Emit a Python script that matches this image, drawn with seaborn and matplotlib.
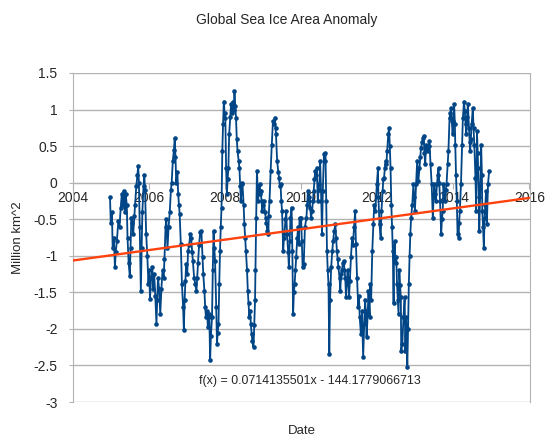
import matplotlib
matplotlib.use('Agg')
import matplotlib.pyplot as plt
import seaborn as sns
import pandas as pd

years = [2004.98, 2005.00, 2005.03, 2005.05, 2005.08, 2005.11, 2005.13, 2005.16, 2005.20, 2005.23,
         2005.26, 2005.29, 2005.32, 2005.34, 2005.37, 2005.39, 2005.42, 2005.44, 2005.47, 2005.50,
         2005.52, 2005.54, 2005.57, 2005.59, 2005.62, 2005.64, 2005.67, 2005.70, 2005.72, 2005.74,
         2005.76, 2005.79, 2005.81, 2005.83, 2005.86, 2005.88, 2005.90, 2005.93, 2005.96, 2005.99,
         2006.01, 2006.03, 2006.06, 2006.09, 2006.12,
         2006.14, 2006.17, 2006.20, 2006.22, 2006.24, 2006.27, 2006.30, 2006.33, 2006.36, 2006.39,
         2006.41, 2006.44, 2006.46, 2006.49, 2006.52, 2006.55, 2006.58, 2006.60, 2006.63, 2006.66,
         2006.68, 2006.70, 2006.72, 2006.75, 2006.77, 2006.79, 2006.81, 2006.84, 2006.87, 2006.90,
         2006.92, 2006.94, 2006.96, 2006.98, 2007.01, 2007.03, 2007.06, 2007.09, 2007.11, 2007.14,
         2007.16, 2007.19, 2007.22, 2007.25, 2007.27, 2007.29, 2007.32, 2007.35,
         2007.38, 2007.41, 2007.43, 2007.46, 2007.48, 2007.50, 2007.53, 2007.55, 2007.57, 2007.59,
         2007.61, 2007.63, 2007.66, 2007.68, 2007.70, 2007.72, 2007.74, 2007.77, 2007.79, 2007.81,
         2007.83, 2007.85, 2007.87, 2007.89, 2007.91, 2007.93, 2007.95, 2007.97, 2007.99, 2008.01,
         2008.03, 2008.05, 2008.07, 2008.09, 2008.11, 2008.14, 2008.16, 2008.18, 2008.20, 2008.23,
         2008.25, 2008.27, 2008.29, 2008.31, 2008.33, 2008.36, 2008.38, 2008.40, 2008.42, 2008.44,
         2008.46, 2008.49, 2008.51, 2008.53, 2008.55, 2008.58, 2008.60, 2008.62, 2008.64, 2008.66,
         2008.68, 2008.70, 2008.72, 2008.75, 2008.77, 2008.79, 2008.80, 2008.82, 2008.84, 2008.86,
         2008.87, 2008.89, 2008.91, 2008.93, 2008.94, 2008.96, 2008.98, 2009.00, 2009.02, 2009.05,
         2009.07, 2009.09, 2009.11, 2009.14, 2009.15, 2009.17, 2009.20, 2009.23, 2009.26, 2009.28,
         2009.31, 2009.33, 2009.34, 2009.37, 2009.40, 2009.42, 2009.44, 2009.46, 2009.48, 2009.50,
         2009.53, 2009.55, 2009.56, 2009.59, 2009.61, 2009.63, 2009.66, 2009.68, 2009.70, 2009.72,
         2009.75, 2009.77, 2009.79, 2009.81, 2009.83, 2009.85, 2009.87, 2009.90, 2009.92,
         2009.94, 2009.96, 2009.98, 2010.00, 2010.02, 2010.04, 2010.07, 2010.10, 2010.14, 2010.16,
         2010.18, 2010.20, 2010.22, 2010.24, 2010.26, 2010.29, 2010.31, 2010.33, 2010.35, 2010.37,
         2010.39, 2010.41, 2010.44, 2010.46, 2010.48, 2010.50, 2010.53, 2010.55, 2010.57, 2010.60,
         2010.62, 2010.64, 2010.66, 2010.68, 2010.70, 2010.72, 2010.74, 2010.76, 2010.79, 2010.82,
         2010.84, 2010.87, 2010.90, 2010.92, 2010.94, 2010.96, 2010.98, 2011.01, 2011.03, 2011.05,
         2011.07, 2011.10, 2011.12, 2011.14, 2011.16,
         2011.18, 2011.20, 2011.22, 2011.24, 2011.26, 2011.28, 2011.31, 2011.34, 2011.36, 2011.39,
         2011.42, 2011.44, 2011.47, 2011.50, 2011.52, 2011.54, 2011.57, 2011.60, 2011.63, 2011.66,
         2011.68, 2011.70, 2011.72, 2011.75, 2011.77, 2011.80, 2011.81, 2011.84, 2011.87, 2011.90,
         2011.92, 2011.95, 2011.99, 2012.02, 2012.03, 2012.06, 2012.09, 2012.11, 2012.14, 2012.16,
         2012.18, 2012.20, 2012.22, 2012.24, 2012.26, 2012.29, 2012.31, 2012.33, 2012.35, 2012.37,
         2012.39, 2012.41, 2012.43, 2012.44, 2012.46, 2012.48,
         2012.50, 2012.52, 2012.54, 2012.56, 2012.58, 2012.60, 2012.62, 2012.63, 2012.66, 2012.69,
         2012.72, 2012.74, 2012.76, 2012.79, 2012.81, 2012.83, 2012.85, 2012.87, 2012.89, 2012.92,
         2012.95, 2012.97, 2012.99, 2013.02, 2013.05, 2013.08, 2013.11, 2013.13, 2013.15, 2013.18,
         2013.20, 2013.22, 2013.24, 2013.26, 2013.28, 2013.31, 2013.33, 2013.35, 2013.37, 2013.40,
         2013.43, 2013.46, 2013.48, 2013.50, 2013.52, 2013.54, 2013.57, 2013.59, 2013.61, 2013.63,
         2013.65, 2013.68,
         2013.70, 2013.72, 2013.74, 2013.76, 2013.78, 2013.80, 2013.82, 2013.85, 2013.87, 2013.90,
         2013.92, 2013.94, 2013.96, 2013.98, 2014.00, 2014.02, 2014.04, 2014.05, 2014.07, 2014.09,
         2014.11, 2014.14, 2014.15, 2014.17, 2014.20, 2014.23, 2014.25, 2014.28, 2014.30, 2014.32,
         2014.34, 2014.36, 2014.38, 2014.41, 2014.43, 2014.44, 2014.46, 2014.48, 2014.51, 2014.53,
         2014.55, 2014.58, 2014.60, 2014.62, 2014.64, 2014.65, 2014.67, 2014.68, 2014.71, 2014.73,
         2014.75, 2014.76, 2014.78, 2014.80, 2014.82, 2014.84, 2014.86, 2014.88, 2014.91, 2014.94]

anomaly = [-0.20, -0.55, -0.40, -0.90, -0.75, -1.16, -0.95, -0.80, -0.52, -0.60,
           -0.35, -0.15, -0.30, -0.11, -0.40, -0.15, -0.30, -0.75, -1.10, -1.28,
           -0.90, -0.48, -0.55, -0.70, -0.45, -0.30, -0.05, 0.10, 0.23, 0.00,
           -0.60, -1.48, -0.90, -0.40, -0.05, 0.11, -0.10, -0.70, -1.00, -1.39,
           -1.20, -1.59, -1.30, -1.15, -1.45,
           -1.25, -1.55, -1.93, -1.60, -1.30, -1.45, -1.80, -1.45, -1.20, -1.30,
           -1.05, -0.60, -0.50, -0.90, -0.60, -0.40, -0.10, 0.00, 0.30, 0.45,
           0.61, 0.35, 0.00, 0.15, -0.15, -0.30, -0.43, -0.84, -1.39, -1.70,
           -2.02, -1.60, -1.35, -1.11, -1.25, -0.93, -0.85, -0.70, -0.75, -0.95,
           -1.07, -1.30, -1.39, -1.48, -1.30, -1.10, -0.85, -0.68,
           -0.66, -1.02, -1.25, -1.48, -1.70, -1.84, -1.75, -1.98, -1.80, -1.84,
           -2.43, -2.10, -1.84, -1.20, -0.66, -0.90, -1.07, -1.70, -2.20, -2.05,
           -1.93, -1.39, -0.93, -0.60, -0.34, 0.43, 0.80, 1.11, 0.95, 0.89,
           0.20, -0.16, 0.05, 0.20, 0.66, 0.90, 1.07, 0.95, 1.11, 1.00,
           1.25, 1.05, 0.89, 0.60, 0.43, 0.30, 0.20, -0.05, -0.25, 0.00,
           -0.02, -0.30, -0.57, -0.75, -0.93, -1.20, -1.48, -1.65, -1.84, -1.75,
           -1.93, -2.07, -2.16, -2.25, -1.95, -1.61, -1.20, -0.48, 0.16, -0.10,
           -0.25, -0.10, -0.02, -0.15, -0.11, -0.25, -0.39, -0.30, -0.25, -0.40,
           -0.48, -0.55, -0.66, -0.70, -0.45, -0.25, 0.16, 0.52, 0.84, 0.80,
           0.89, 0.75, 0.66, 0.30, 0.15, 0.07, -0.05, -0.02, -0.25, -0.39,
           -0.93, -0.75, -0.70, -0.50, -0.39, -0.70, -0.95, -1.16, -0.80, -0.48,
           -0.34, -0.93, -1.80, -1.50, -1.39, -1.20, -1.02, -0.75, -0.61,
           -0.84, -0.48, -0.60, -0.48, -0.80, -1.16, -1.11, -0.61, -0.48, -0.30,
           -0.11, -0.25, -0.20, -0.35, -0.48, -0.39, -0.25, -0.11, 0.05, 0.16,
           0.10, 0.20, -0.25, -0.10, -0.02, 0.30, -0.25, -0.70, -0.11, 0.39,
           0.30, 0.41, -0.25, -0.93, -1.20, -1.39, -2.34, -1.61, -1.16, -0.93,
           -0.80, -0.66, -0.57, -0.75, -0.93, -1.05, -1.16, -1.30, -1.48, -1.25,
           -1.20, -1.10, -1.07, -1.20, -1.30,
           -1.57, -1.39, -1.20, -1.30, -1.57, -1.35, -1.02, -0.75, -0.85, -0.61,
           -0.39, -0.84, -1.30, -1.70, -1.55, -1.84, -2.07, -1.75, -2.39, -1.93,
           -1.60, -1.75, -2.11, -1.80, -1.48, -1.84, -1.39, -1.61, -0.93, -0.57,
           -0.30, -0.39, -0.02, 0.20, -0.20, -0.57, -0.75, -0.39, -0.11, 0.05,
           0.07, 0.20, 0.30, 0.25, 0.43, 0.66, 0.75, 0.50, 0.20, -0.30,
           -0.60, -0.93, -1.65, -1.00, -0.80, -1.10,
           -1.02, -1.39, -1.60, -1.80, -1.20, -1.40, -1.57, -2.30, -2.20, -1.84,
           -1.57, -2.30, -1.84, -2.52, -2.00, -1.39, -1.00, -0.70, -0.48, -0.30,
           -0.02, -0.20, -0.39, -0.02, 0.30, 0.02, 0.20, 0.35, 0.48, 0.55,
           0.61, 0.64, 0.40, 0.25, 0.52, 0.45, 0.43, 0.50, 0.57, 0.25,
           -0.02, -0.48, -0.20, -0.02, -0.15, -0.25, -0.02, 0.10, 0.20, 0.00,
           -0.25, -0.70,
           -0.50, -0.39, -0.02, -0.15, -0.25, -0.10, -0.02, 0.25, 0.43, 0.89,
           0.95, 1.02, 0.85, 0.66, 0.85, 1.07, 0.80, 0.52, 0.10, -0.25,
           -0.70, -0.75, -0.55, -0.39, -0.02, 0.52, 0.89, 1.11, 0.98, 0.80,
           0.66, 0.90, 1.07, 0.75, 0.55, 0.43, 0.60, 0.80, 1.02, 0.75,
           0.52, 0.07, -0.39, 0.70, 0.40, 0.20, -0.20, -0.66, -0.02, 0.52,
           0.10, -0.39, -0.60, -0.89, -0.48, -0.30, -0.11, -0.57, -0.02, 0.16]

trend_x = [2004, 2016]
slope = 0.0714135501
intercept = -144.1779066713

x_ticks = [2004, 2006, 2008, 2010, 2012, 2014, 2016]
y_ticks = [1.5, 1, 0.5, 0, -0.5, -1, -1.5, -2, -2.5, -3]
y_tick_labels = ["1.5", "1", "0.5", "0", "-0.5", "-1", "-1.5", "-2", "-2.5", "-3"]

sns.set_style('white')
plt.rcParams['font.family'] = ['Liberation Sans', 'DejaVu Sans']

df = pd.DataFrame({'year': years, 'anomaly': anomaly})
trend = pd.DataFrame({'year': trend_x,
                      'value': [slope * v + intercept for v in trend_x]})

fig = plt.figure(figsize=(5.55, 4.43), dpi=100)
W, H = 555, 443
ax = fig.add_axes([72.7 / W, 1 - 402 / H, (529.5 - 72.7) / W, (402 - 73) / H])

grid_c = '#b3b3b3'
for yv in y_ticks:
    ax.axhline(yv, color=grid_c, lw=1.0, zorder=0)

sns.lineplot(data=df, x='year', y='anomaly', ax=ax, color='#004586',
             linewidth=1.3, marker='o', markersize=3.3, markeredgewidth=0,
             zorder=3)
sns.lineplot(data=trend, x='year', y='value', ax=ax, color='#ff420e',
             linewidth=1.7, zorder=4)

ax.set_xlim(2004, 2016)
ax.set_ylim(-3, 1.5)
ax.set_xticks(x_ticks)
ax.set_xticklabels([str(t) for t in x_ticks])
ax.set_yticks(y_ticks)
ax.set_yticklabels(y_tick_labels)
ax.set_xlabel('')
ax.set_ylabel('')

ax.spines['top'].set_visible(False)
ax.spines['left'].set_color(grid_c)
ax.spines['right'].set_color(grid_c)
ax.spines['bottom'].set_position(('data', 0))
ax.spines['bottom'].set_color(grid_c)
ax.tick_params(axis='x', length=4, color=grid_c, labelsize=10, pad=2,
               direction='out', bottom=True)
ax.tick_params(axis='y', length=3, color=grid_c, labelsize=10, pad=8, left=True)

fig.text(287 / W, 1 - 20 / H, 'Global Sea Ice Area Anomaly', ha='center',
         va='center', fontsize=10)
fig.text(302 / W, 1 - 431 / H, 'Date', ha='center', va='center', fontsize=9.5)
fig.text(18 / W, 1 - 238 / H, 'Million km^2', ha='center', va='center',
         rotation=90, fontsize=9.5)
fig.text(310 / W, 1 - 381 / H, 'f(x) = 0.0714135501x - 144.1779066713',
         ha='center', va='center', fontsize=8.9)

fig.savefig('out.png', dpi=100)
